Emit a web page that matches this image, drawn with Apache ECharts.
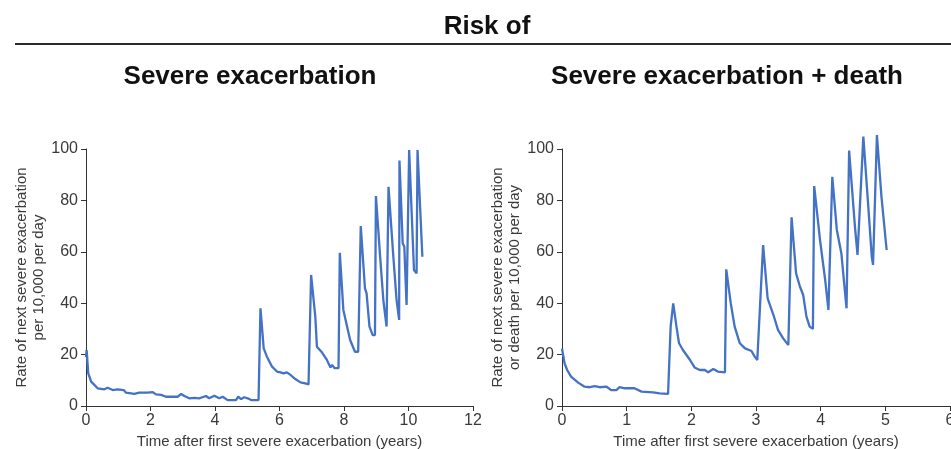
<!DOCTYPE html>
<html>
<head>
<meta charset="utf-8">
<script src="https://cdn.jsdelivr.net/npm/echarts@6/dist/echarts.min.js"></script>
<style>
html,body{margin:0;padding:0;background:#fff;overflow:hidden;}
#c{width:951px;height:449px;}
</style>
</head>
<body>
<div id="c"></div>
<script>
// Left panel: severe exacerbation
var leftX = [0.00,0.02,0.07,0.16,0.36,0.57,0.67,0.83,0.98,1.17,1.24,1.50,1.65,1.91,2.07,2.17,2.33,2.48,2.84,2.95,3.05,3.20,3.36,3.51,3.72,3.82,3.98,4.13,4.24,4.39,4.65,4.72,4.81,4.91,5.01,5.12,5.35,5.41,5.51,5.61,5.77,5.92,6.03,6.08,6.13,6.23,6.34,6.49,6.65,6.80,6.85,6.90,6.98,7.11,7.16,7.32,7.47,7.58,7.63,7.71,7.83,7.87,7.98,8.19,8.34,8.44,8.52,8.65,8.70,8.79,8.89,8.96,8.99,9.12,9.22,9.32,9.38,9.53,9.63,9.71,9.72,9.82,9.87,9.94,10.02,10.17,10.25,10.28,10.43];
var leftY = [19.0,21.8,12.7,9.5,6.9,6.5,7.1,6.2,6.5,6.2,5.2,4.7,5.2,5.2,5.4,4.5,4.3,3.6,3.6,4.7,3.9,3.0,3.2,3.0,3.9,3.0,4.0,3.0,3.6,2.3,2.3,3.6,2.7,3.4,3.0,2.3,2.3,38.0,22.4,19.2,15.3,13.4,13.1,13.7,12.7,13.1,12.1,10.5,9.2,8.8,9.5,8.4,51.0,34.8,23.1,20.8,17.9,15.0,16.0,14.7,14.7,59.6,37.4,25.7,21.1,21.1,70.0,45.8,43.8,30.9,27.6,27.6,81.7,58.1,41.2,30.9,85.3,58.1,41.2,33.5,95.5,63.3,62.0,39.3,99.6,52.9,51.6,99.6,58.1];

// Right panel: severe exacerbation + death
var rightX = [0.00,0.04,0.08,0.14,0.25,0.35,0.43,0.51,0.58,0.69,0.76,0.84,0.89,0.97,1.12,1.23,1.41,1.51,1.64,1.68,1.72,1.77,1.81,1.87,1.98,2.05,2.13,2.21,2.26,2.34,2.41,2.52,2.54,2.61,2.67,2.75,2.83,2.93,2.98,3.02,3.05,3.11,3.18,3.27,3.34,3.42,3.50,3.53,3.55,3.62,3.68,3.73,3.78,3.83,3.88,3.90,3.99,4.07,4.12,4.18,4.25,4.32,4.40,4.44,4.53,4.57,4.60,4.66,4.74,4.79,4.81,4.87,4.94,5.02];
var rightY = [22.4,16.6,14.0,11.4,9.1,7.5,7.3,7.7,7.3,7.5,6.2,6.2,7.3,6.9,6.9,5.6,5.3,4.9,4.7,30.9,39.9,30.9,24.4,21.8,17.9,15.0,14.0,14.0,13.1,14.4,13.4,13.1,53.2,39.9,30.9,24.4,22.4,21.4,19.2,17.9,18.2,62.6,41.9,35.4,29.6,26.3,23.7,24.4,73.4,51.6,46.4,43.2,34.8,30.9,30.0,85.6,64.6,49.0,37.4,89.2,68.5,59.4,38.0,99.4,69.8,58.8,58.1,104.8,76.3,58.1,54.9,105.4,81.5,60.7];

var yTicks = [0,20,40,60,80,100];
var leftXTicks = [0,2,4,6,8,10,12];
var rightXTicks = [0,1,2,3,4,5,6];

var titles = ['Risk of','Severe exacerbation','Severe exacerbation + death'];
var xName = 'Time after first severe exacerbation (years)';
var yNames = ['Rate of next severe exacerbation\nper 10,000 per day','Rate of next severe exacerbation\nor death per 10,000 per day'];

function pairs(xs, ys){ return xs.map(function(x,i){ return [x, ys[i]]; }); }

var FONT = '"Liberation Sans", Arial, sans-serif';
var axisCol = '#333';
var lblCol = '#3a3a3a';

function xAxis(idx, ticks){
  return {
    type:'value', gridIndex:idx, min:ticks[0], max:ticks[ticks.length-1], interval:ticks[1]-ticks[0],
    name:xName, nameLocation:'middle', nameGap:28,
    nameTextStyle:{fontFamily:FONT, fontSize:15, color:'#3a3a3a'},
    axisLine:{show:true, lineStyle:{color:axisCol, width:1}},
    axisTick:{show:true, length:5, lineStyle:{color:axisCol}},
    axisLabel:{fontFamily:FONT, fontSize:16, color:lblCol, margin:7, showMaxLabel:true, hideOverlap:false},
    splitLine:{show:false}
  };
}
function yAxis(idx, nm){
  return {
    type:'value', gridIndex:idx, min:yTicks[0], max:yTicks[yTicks.length-1], interval:yTicks[1]-yTicks[0],
    name:nm, nameLocation:'middle', nameGap:39, nameRotate:90,
    nameTextStyle:{fontFamily:FONT, fontSize:15, color:'#3a3a3a', lineHeight:17, align:'center'},
    axisLine:{show:true, lineStyle:{color:axisCol, width:1}},
    axisTick:{show:true, length:5, lineStyle:{color:axisCol}},
    axisLabel:{fontFamily:FONT, fontSize:16, color:lblCol, margin:8},
    splitLine:{show:false}
  };
}

var chart = echarts.init(document.getElementById('c'), null, {renderer:'canvas'});
chart.setOption({
  animation:false,
  backgroundColor:'#fff',
  title:[
    {text:titles[0], left:487, top:14, textAlign:'center', padding:0,
     textStyle:{fontFamily:FONT, fontSize:26, fontWeight:'bold', color:'#111'}},
    {text:titles[1], left:250, top:64, textAlign:'center', padding:0,
     textStyle:{fontFamily:FONT, fontSize:26, fontWeight:'bold', color:'#111'}},
    {text:titles[2], left:727, top:64, textAlign:'center', padding:0,
     textStyle:{fontFamily:FONT, fontSize:26, fontWeight:'bold', color:'#111'}}
  ],
  graphic:[
    {type:'line', shape:{x1:15, y1:44, x2:951, y2:44}, style:{stroke:'#2a2a2a', lineWidth:2}}
  ],
  grid:[
    {left:86, right:478, top:149, bottom:43, containLabel:false, outerBoundsMode:'none'},
    {left:562, right:1, top:149, bottom:43, containLabel:false, outerBoundsMode:'none'}
  ],
  xAxis:[xAxis(0, leftXTicks), xAxis(1, rightXTicks)],
  yAxis:[yAxis(0, yNames[0]), yAxis(1, yNames[1])],
  series:[
    {type:'line', xAxisIndex:0, yAxisIndex:0, data:pairs(leftX,leftY), showSymbol:false, symbol:'none',
     clip:false, lineStyle:{color:'#4472C4', width:2.3}},
    {type:'line', xAxisIndex:1, yAxisIndex:1, data:pairs(rightX,rightY), showSymbol:false, symbol:'none',
     clip:false, lineStyle:{color:'#4472C4', width:2.3}}
  ]
});
</script>
</body>
</html>
